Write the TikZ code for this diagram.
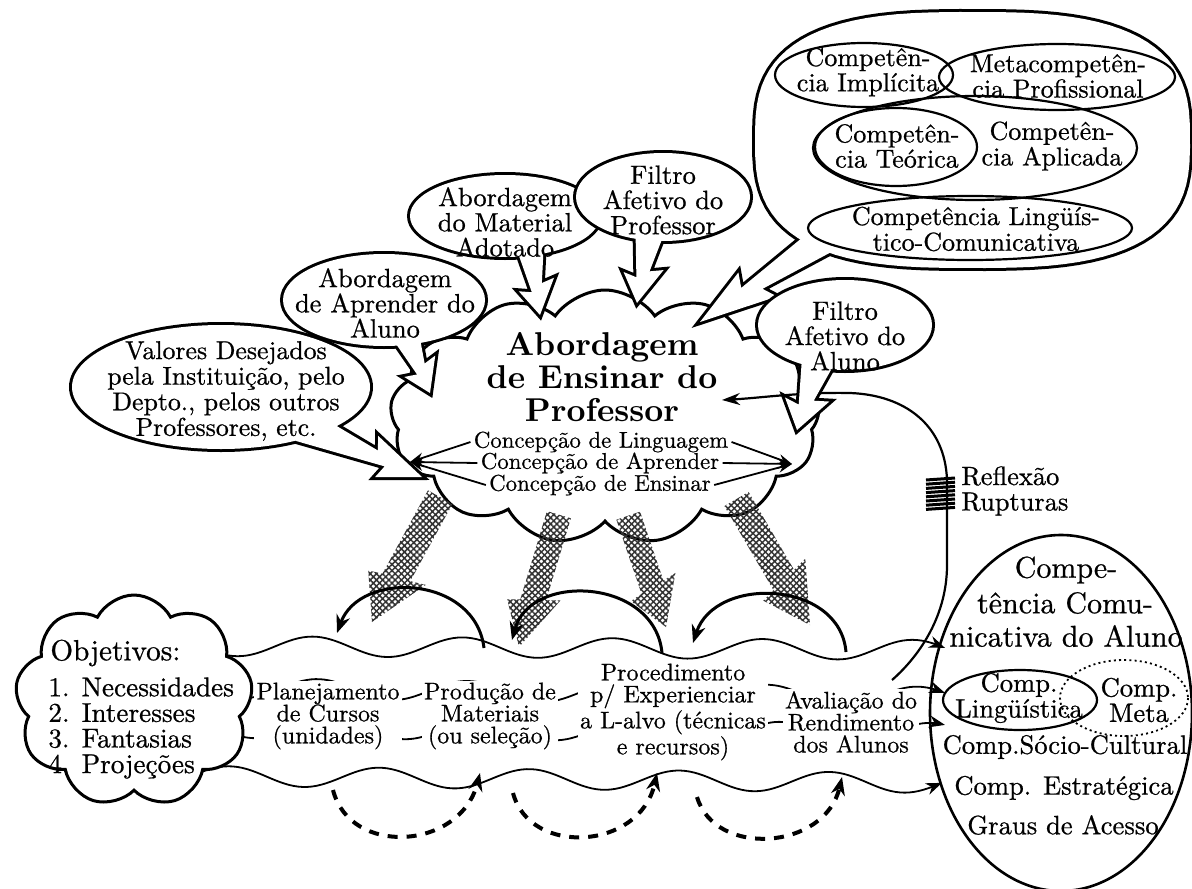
\documentclass[tikz,border=0pt]{standalone}
\usepackage{fontspec}
\setmainfont{lmroman10}[Extension=.otf, UprightFont=*-regular, BoldFont=*-bold, ItalicFont=*-italic, UprightFeatures={FakeBold=0.7}]
\usetikzlibrary{shapes.symbols,shapes.geometric,arrows.meta,patterns.meta,calc}
\newcommand\fs[2]{\fontsize{#1}{#2}\selectfont}
\newcommand\tailsetup[5]{%
 \pgfmathsetmacro\tdx{(#3)-(#1)}%
 \pgfmathsetmacro\tdy{(#4)-(#2)}%
 \pgfmathsetmacro\tL{veclen(\tdx,\tdy)}%
 \pgfmathsetmacro\tvx{-(\tdy)/\tL*(#5)}%
 \pgfmathsetmacro\tvy{(\tdx)/\tL*(#5)}%
 \pgfmathsetmacro\tbx{#1}\pgfmathsetmacro\tby{#2}%
 \def\tp##1##2{({\tbx+(##1)*(\tdx)+(##2)*(\tvx)},{\tby+(##1)*(\tdy)+(##2)*(\tvy)})}%
}
\def\tailp{\tp{-0.15}{-0.5} -- \tp{0.55}{-0.2} -- \tp{0.5}{-0.6} -- \tp{1}{0} -- \tp{0.62}{0.55} -- \tp{0.66}{0.15} -- \tp{-0.15}{0.5} -- cycle}
\def\harrowp{\tp{-0.05}{-0.5} -- \tp{0.6}{-0.5} -- \tp{0.57}{-1.05} -- \tp{1}{0} -- \tp{0.68}{1.0} -- \tp{0.65}{0.5} -- \tp{-0.05}{0.5} -- cycle}
\newcommand\bubble[9]{\tailsetup{#5}{#6}{#7}{#8}{#9}%
 \draw[bub] (#1,#2) ellipse [x radius=#3, y radius=#4];
 \draw[bub] \tailp;
 \fill[white] (#1,#2) ellipse [x radius=#3, y radius=#4];
 \fill[white] \tailp;}
\newcommand\harrow[5]{\tailsetup{#1}{#2}{#3}{#4}{#5}%
 \fill[hatchfill] \harrowp;}
\newcommand\wave[5]{%
 \draw[wavy] plot[domain=#1:#2, samples=160] (\x,{(#3)+((#4)-(#3))/((#2)-(#1))*(\x-(#1)) + 10*sin(2.4*(\x-(#1))+(#5))});}
\def\bigballoon{plot[domain=1:361, samples=91] ({972.5+217.5*sign(cos(\x))*abs(cos(\x))^0.7},{140+128*sign(sin(\x))*abs(sin(\x))^0.7}) -- cycle}
\tikzset{
 bub/.style={line width=3pt, fill=white, line join=miter, miter limit=6},
 hatchfill/.style={pattern={Hatch[angle=45,distance=2.2pt,line width=0.75pt]}, pattern color=black!80},
 wavy/.style={line width=0.9pt, -{Stealth[length=8pt,width=6pt]}},
 btxt/.style={align=center, inner sep=0pt, font=\fs{13.2}{12.6}},
 itxt/.style={align=center, inner sep=0pt, font=\fs{13}{11.5}},
 coltxt/.style={align=center, inner sep=1pt, fill=white, font=\fs{12}{11}},
 contxt/.style={inner sep=1.5pt, font=\fs{11.4}{10}},
 conarrow/.style={line width=0.9pt, -{Stealth[length=7pt,width=5pt]}},
 rtxt/.style={align=center, inner sep=0pt, font=\fs{15}{13}},
 r2txt/.style={align=center, inner sep=0pt, font=\fs{13.3}{10.5}},
 arcarrow/.style={line width=1.5pt, -{Stealth[length=9pt,width=7pt]}},
 dasharc/.style={line width=2pt, dash pattern=on 5pt off 4.5pt, -{Stealth[length=9pt,width=7pt]}},
 inell/.style={line width=1.1pt},
}
\begin{document}
\begin{tikzpicture}[x=0.5pt,y=-0.5pt]
\useasboundingbox (0,0) rectangle (1192,888);
\fill[white] (0,0) rectangle (1192,888);

% central cloud
\node[cloud, cloud puffs=13, cloud puff arc=110, cloud ignores aspect, draw, line width=1.5pt, fill=white,
      minimum width=215pt, minimum height=127pt, inner sep=0pt] (cloud) at (605,417) {};

% feedback curve
\coordinate (fbstart) at (892,680);
\coordinate (fbend) at (722,400);
\draw[line width=1.1pt, -{Stealth[length=9pt,width=6pt]}] (fbstart) .. controls (915,660) and (947,620) .. (947,565) -- (947,480)
   .. controls (945,425) and (905,395) .. (850,393) .. controls (800,392) and (760,398) .. (fbend);

% hatched arrows
\harrow{437}{503}{372}{622}{28}
\harrow{557}{521}{519}{647}{25}
\harrow{630}{521}{666}{627}{25}
\harrow{740}{505}{810}{625}{28}

% bubbles
\bubble{221}{387}{149}{62}{318}{432}{422}{477}{34}
\bubble{384}{300}{101}{46}{405}{333}{430}{393}{32}
\bubble{505}{216}{95}{41}{530}{246}{540}{315}{32}
\bubble{663}{197}{87}{44}{650}{230}{637}{303}{34}
% big balloon
\tailsetup{830}{235}{700}{322}{36}
\draw[bub] \bigballoon;
\draw[bub] \tailp;
\fill[white] \bigballoon;
\fill[white] \tailp;
\bubble{845}{325}{87}{45}{818}{360}{797}{430}{38}

% inner ellipses of big balloon
\draw[inell] (864,75) ellipse [x radius=89, y radius=32];
\draw[inell] (1057,77) ellipse [x radius=118, y radius=33];
\draw[inell] (896,147) ellipse [x radius=81, y radius=39];
\draw[inell] (975,148) ellipse [x radius=162, y radius=52];
\draw[inell] (970,228) ellipse [x radius=162, y radius=32];
\node[itxt] (cimp) at (868,72) {Competên-\\cia Implícita};
\node[itxt] (cmeta) at (1058,76) {Metacompetên-\\cia Profissional};
\node[itxt] (cteo) at (897,146) {Competên-\\cia Teórica};
\node[itxt] (capl) at (1052,146) {Competên-\\cia Aplicada};
\node[itxt] (cling) at (976,229) {Competência Lingüís-\\tico-Comunicativa};

% bubble texts
\node[btxt] (mat) at (505,222) {Abordagem\\do Material\\Adotado};
\node[btxt] (fprof) at (663,200) {Filtro\\Afetivo do\\Professor};
\node[btxt] (apr) at (385,303) {Abordagem\\de Aprender do\\Aluno};
\node[btxt, font=\fs{12.9}{12.8}] (val) at (226,391) {Valores Desejados\\pela Instituição, pelo\\Depto., pelos outros\\Professores, etc.};
\node[btxt] (falu) at (845,336) {Filtro\\Afetivo do\\Aluno};

% central texts
\node[align=center, inner sep=0pt, font=\bfseries\fs{16.5}{16.5}] (title) at (602,377) {Abordagem\\de Ensinar do\\Professor};
\node[contxt] (cc1) at (601,442) {Concepção de Linguagem};
\node[contxt] (cc2) at (600,463) {Concepção de Aprender};
\node[contxt] (cc3) at (600,485) {Concepção de Ensinar};
\coordinate (lt) at (410,462);
\coordinate (rt) at (792,464);
\foreach \n in {cc1,cc2,cc3}{
  \draw[conarrow] (\n.west) -- (lt);
  \draw[conarrow] (\n.east) -- (rt);
}

% waves
\wave{200}{945}{646}{650}{0}
\wave{230}{945}{688}{697}{60}
\wave{230}{945}{728}{733}{30}
\wave{200}{942}{776}{783}{200}

% column texts
\node[coltxt] (plan) at (328,716) {Planejamento\\de Cursos\\(unidades)};
\node[coltxt] (prod) at (490,716) {Produção de\\Materiais\\(ou seleção)};
\node[coltxt] (proc) at (673,712) {Procedimento\\p/ Experienciar\\a L-alvo (técnicas\\e recursos)};
\node[coltxt] (aval) at (851,722) {Avaliação do\\Rendimento\\dos Alunos};

% solid arcs
\coordinate (a1s) at (484,648); \coordinate (a1e) at (337,633);
\coordinate (a2s) at (662,653); \coordinate (a2e) at (512,640);
\coordinate (a3s) at (846,652); \coordinate (a3e) at (693,643);
\draw[arcarrow] (a1s) .. controls (475,575) and (360,570) .. (a1e);
\draw[arcarrow] (a2s) .. controls (655,578) and (530,572) .. (a2e);
\draw[arcarrow] (a3s) .. controls (840,580) and (715,575) .. (a3e);
% dashed arcs
\coordinate (d1s) at (333,790); \coordinate (d1e) at (480,773);
\coordinate (d2s) at (513,793); \coordinate (d2e) at (657,773);
\coordinate (d3s) at (697,797); \coordinate (d3e) at (842,777);
\draw[dasharc] (d1s) .. controls (350,857) and (460,850) .. (d1e);
\draw[dasharc] (d2s) .. controls (530,857) and (640,850) .. (d2e);
\draw[dasharc] (d3s) .. controls (715,858) and (825,850) .. (d3e);

% Objetivos cloud
\node[cloud, cloud puffs=9, cloud puff arc=125, cloud ignores aspect, draw, line width=1.5pt, fill=white,
      minimum width=119pt, minimum height=106pt, inner sep=0pt] (objc) at (134,701) {};
\node[anchor=west, inner sep=0pt, font=\fs{14.6}{13}] (objt) at (50,653) {Objetivos:};
\node[anchor=west, align=left, inner sep=0pt, font=\fs{13.6}{12.8}] (objl) at (48,728) {1. Necessidades\\2. Interesses\\3. Fantasias\\4. Projeções};

% right ellipse
\draw[line width=1.3pt] (1061,713) ellipse [x radius=131, y radius=178];
\draw[inell] (1020,700) ellipse [x radius=77, y radius=30];
\draw[line width=0.9pt, dash pattern=on 1pt off 1.6pt] (1124,698) ellipse [x radius=64, y radius=38];
\node[rtxt] (ca1) at (1066,570) {Compe-};
\node[rtxt] (ca2) at (1065,603) {tência Comu-};
\node[rtxt] (ca3) at (1066,636) {nicativa do Aluno};
\node[r2txt] (cl) at (1019,698) {Comp.\\Lingüística};
\node[r2txt] (cm) at (1139,700) {Comp.\\Meta};
\node[r2txt] (csc) at (1065,747) {Comp.Sócio-Cultural};
\node[r2txt] (ces) at (1064,788) {Comp. Estratégica};
\node[r2txt] (cga) at (1063,825) {Graus de Acesso};

% Reflexao / Rupturas
\foreach \yy in {480,484.2,...,510}{
  \draw[line width=1.5pt] (926,\yy) -- (955,\yy-2);
}
\node[anchor=west, inner sep=0pt, font=\fs{13.2}{13}] (refl) at (961,476) {Reflexão};
\node[anchor=west, inner sep=0pt, font=\fs{13.2}{13}] (rupt) at (961,504) {Rupturas};
\end{tikzpicture}
\end{document}
